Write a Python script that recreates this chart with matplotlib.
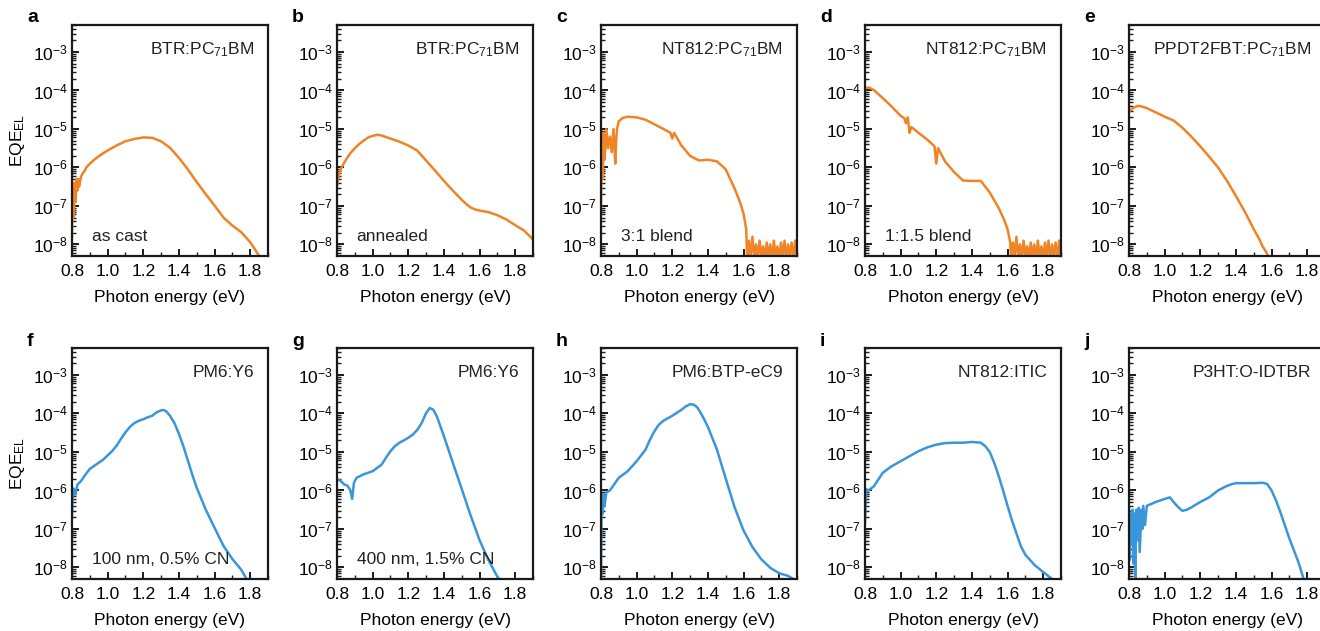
import matplotlib
matplotlib.use("Agg")
import matplotlib.pyplot as plt
import numpy as np
from matplotlib.ticker import FixedLocator, LogLocator, NullFormatter, MultipleLocator

plt.rcParams['font.family'] = ['Liberation Sans', 'DejaVu Sans']
plt.rcParams['mathtext.fontset'] = 'custom'
plt.rcParams['mathtext.rm'] = 'Liberation Sans'
plt.rcParams['mathtext.it'] = 'Liberation Sans:italic'
plt.rcParams['mathtext.bf'] = 'Liberation Sans:bold'

ORANGE = '#EF8427'
BLUE = '#3A96DA'

# photon energy (eV) and log10(EQE_EL)
a_E = [0.80, 0.805, 0.81, 0.815, 0.82, 0.825, 0.83, 0.835, 0.84, 0.85, 0.86, 0.87, 0.88, 0.9, 0.925, 0.95, 0.975,
       1.0, 1.05, 1.1, 1.15, 1.2, 1.25, 1.3, 1.35, 1.4, 1.45, 1.5, 1.55, 1.6, 1.65, 1.7, 1.75, 1.8, 1.83, 1.85]
a_L = [-7.8, -6.5, -7.3, -6.4, -6.9, -6.3, -6.6, -6.3, -6.5, -6.25, -6.15, -6.1, -6.0, -5.9, -5.8, -5.71, -5.63,
       -5.56, -5.43, -5.32, -5.26, -5.22, -5.23, -5.32, -5.49, -5.75, -6.05, -6.38, -6.69, -6.99, -7.3, -7.51, -7.68, -7.94, -8.15, -8.3]

b_E = [0.80, 0.81, 0.82, 0.85, 0.875, 0.9, 0.925, 0.95, 0.975, 1.0, 1.03, 1.05, 1.075, 1.1, 1.15, 1.2, 1.25, 1.3, 1.35, 1.4,
       1.45, 1.5, 1.525, 1.55, 1.575, 1.6, 1.65, 1.7, 1.75, 1.8, 1.85, 1.9]
b_L = [-6.5, -6.2, -6.05, -5.8, -5.63, -5.5, -5.39, -5.3, -5.22, -5.18, -5.15, -5.17, -5.21, -5.25, -5.33, -5.43, -5.56, -5.82, -6.08, -6.35,
       -6.6, -6.84, -6.95, -7.04, -7.09, -7.12, -7.16, -7.24, -7.35, -7.5, -7.64, -7.87]

c_E = [0.80, 0.805, 0.81, 0.815, 0.82, 0.83, 0.84, 0.85, 0.86, 0.87, 0.88, 0.885, 0.89, 0.9, 0.92,
       0.95, 1.0, 1.05, 1.1, 1.15, 1.19, 1.2, 1.21, 1.25, 1.3, 1.35, 1.4, 1.45, 1.5, 1.55, 1.58, 1.6, 1.615,
       1.62, 1.63, 1.64, 1.65, 1.66, 1.67, 1.68, 1.69, 1.70, 1.71, 1.72, 1.73, 1.74, 1.75, 1.76, 1.77,
       1.78, 1.79, 1.80, 1.81, 1.82, 1.83, 1.84, 1.85, 1.86, 1.87, 1.88, 1.89, 1.9]
c_L = [-7.0, -5.2, -6.3, -5.1, -5.8, -5.0, -5.5, -5.2, -5.6, -5.0, -5.9, -5.3, -5.0, -4.8, -4.72,
       -4.68, -4.7, -4.76, -4.88, -5.0, -5.1, -5.25, -5.1, -5.42, -5.7, -5.82, -5.8, -5.84, -6.05, -6.55, -6.9, -7.2, -7.6,
       -8.4, -7.9, -8.3, -7.8, -8.35, -8.0, -8.4, -7.9, -8.3, -8.05, -8.4, -7.95, -8.3, -8.0, -8.4, -7.9,
       -8.3, -8.05, -8.4, -7.95, -8.3, -7.9, -8.4, -8.0, -8.3, -7.95, -8.4, -7.9, -8.3]

d_E = [0.80, 0.82, 0.85, 0.9, 0.95, 1.0, 1.02, 1.03, 1.04, 1.05, 1.06, 1.1, 1.15, 1.19, 1.2, 1.21,
       1.25, 1.3, 1.35, 1.4, 1.45, 1.5, 1.55, 1.58, 1.6, 1.615,
       1.62, 1.63, 1.64, 1.65, 1.66, 1.67, 1.68, 1.69, 1.70, 1.71, 1.72, 1.73, 1.74, 1.75, 1.76, 1.77,
       1.78, 1.79, 1.80, 1.81, 1.82, 1.83, 1.84, 1.85, 1.86, 1.87, 1.88, 1.89, 1.9]
d_L = [-3.95, -3.92, -3.99, -4.2, -4.42, -4.66, -4.72, -4.85, -4.7, -5.1, -4.95, -5.1, -5.28, -5.45, -5.9, -5.5,
       -5.85, -6.12, -6.34, -6.35, -6.35, -6.65, -7.05, -7.35, -7.6, -7.95,
       -8.4, -7.95, -8.3, -7.8, -8.35, -8.0, -8.4, -7.9, -8.3, -8.05, -8.4, -7.95, -8.3, -8.0, -8.4, -7.9,
       -8.3, -8.05, -8.4, -7.95, -8.3, -7.9, -8.4, -8.0, -8.3, -7.95, -8.4, -7.9, -8.3]

e_E = [0.80, 0.825, 0.85, 0.875, 0.9, 0.95, 1.0, 1.05, 1.1, 1.15, 1.2, 1.25, 1.3, 1.35, 1.4, 1.45, 1.5, 1.53, 1.55, 1.57, 1.58]
e_L = [-4.55, -4.45, -4.4, -4.42, -4.46, -4.57, -4.68, -4.78, -4.97, -5.2, -5.45, -5.72, -6.0, -6.35, -6.74, -7.15, -7.6, -7.85, -8.05, -8.2, -8.3]

f_E = [0.80, 0.805, 0.81, 0.82, 0.83, 0.85, 0.875, 0.9, 0.925, 0.95, 0.975, 1.0, 1.025, 1.05, 1.075, 1.1, 1.125,
       1.15, 1.175, 1.2, 1.225, 1.25, 1.275, 1.3, 1.315, 1.33, 1.35, 1.375, 1.4, 1.425, 1.45, 1.475,
       1.5, 1.55, 1.6, 1.65, 1.7, 1.75, 1.78]
f_L = [-6.66, -6.1, -5.95, -6.1, -5.85, -5.76, -5.59, -5.44, -5.36, -5.28, -5.2, -5.09, -4.98, -4.84, -4.66, -4.49, -4.35,
       -4.25, -4.19, -4.15, -4.1, -4.06, -3.97, -3.92, -3.91, -3.95, -4.06, -4.25, -4.53, -4.85, -5.22, -5.59,
       -5.93, -6.49, -6.97, -7.44, -7.78, -8.06, -8.3]

g_E = [0.80, 0.82, 0.84, 0.86, 0.875, 0.885, 0.895, 0.91, 0.95, 1.0, 1.05, 1.075, 1.1, 1.125, 1.15, 1.175,
       1.2, 1.225, 1.25, 1.275, 1.3, 1.32, 1.34, 1.36, 1.38, 1.4, 1.45, 1.5, 1.55, 1.6, 1.65, 1.7, 1.71]
g_L = [-5.71, -5.75, -5.84, -5.88, -6.0, -6.22, -5.8, -5.67, -5.58, -5.5, -5.33, -5.15, -4.98, -4.85, -4.76, -4.7,
       -4.63, -4.55, -4.43, -4.25, -3.99, -3.86, -3.9, -4.07, -4.33, -4.59, -5.28, -5.96, -6.65, -7.29, -7.81, -8.24, -8.3]

h_E = [0.80, 0.802, 0.805, 0.81, 0.815, 0.82, 0.83, 0.85, 0.9, 0.95, 1.0, 1.05, 1.075, 1.1, 1.125, 1.15, 1.2,
       1.25, 1.275, 1.3, 1.32, 1.34, 1.36, 1.38, 1.4, 1.45, 1.5, 1.55, 1.6, 1.65, 1.7, 1.75, 1.8, 1.85, 1.88]
h_L = [-8.3, -6.9, -6.15, -6.6, -6.1, -6.4, -6.05, -6.0, -5.67, -5.5, -5.24, -4.94, -4.68, -4.46, -4.29, -4.19, -4.06,
       -3.91, -3.82, -3.76, -3.77, -3.84, -3.99, -4.16, -4.35, -4.93, -5.69, -6.44, -7.04, -7.47, -7.79, -8.01, -8.15, -8.22, -8.3]

i_E = [0.80, 0.805, 0.81, 0.82, 0.85, 0.9, 0.95, 1.0, 1.05, 1.1, 1.15, 1.2, 1.25, 1.3, 1.35, 1.4, 1.45, 1.475,
       1.5, 1.525, 1.55, 1.575, 1.6, 1.625, 1.65, 1.675, 1.7, 1.75, 1.8, 1.85]
i_L = [-6.84, -6.2, -5.97, -6.0, -5.89, -5.54, -5.37, -5.24, -5.11, -4.98, -4.88, -4.81, -4.77, -4.76, -4.76, -4.74, -4.76, -4.85,
       -5.0, -5.28, -5.62, -6.0, -6.4, -6.78, -7.12, -7.45, -7.67, -7.93, -8.12, -8.3]

j_E = [0.80, 0.805, 0.81, 0.815, 0.82, 0.825, 0.83, 0.835, 0.84, 0.85, 0.855, 0.86, 0.87, 0.875, 0.88, 0.89,
       0.9, 0.95, 1.0, 1.03, 1.05, 1.075, 1.1, 1.125, 1.15, 1.2, 1.25, 1.3, 1.325, 1.35, 1.375, 1.4, 1.45, 1.5, 1.55,
       1.575, 1.6, 1.625, 1.65, 1.675, 1.7, 1.725, 1.75, 1.78]
j_L = [-6.5, -7.8, -6.6, -7.4, -6.5, -7.9, -6.6, -8.3, -6.5, -7.3, -6.45, -7.6, -6.5, -7.0, -6.4, -6.9,
       -6.4, -6.3, -6.22, -6.18, -6.3, -6.43, -6.53, -6.5, -6.44, -6.3, -6.18, -6.0, -5.94, -5.88, -5.84, -5.81, -5.81, -5.81, -5.8,
       -5.83, -6.0, -6.26, -6.57, -6.91, -7.25, -7.55, -7.85, -8.3]

panels = [
    ('a', a_E, a_L, ORANGE, 'BTR:PC$_{71}$BM', 'as cast'),
    ('b', b_E, b_L, ORANGE, 'BTR:PC$_{71}$BM', 'annealed'),
    ('c', c_E, c_L, ORANGE, 'NT812:PC$_{71}$BM', '3:1 blend'),
    ('d', d_E, d_L, ORANGE, 'NT812:PC$_{71}$BM', '1:1.5 blend'),
    ('e', e_E, e_L, ORANGE, 'PPDT2FBT:PC$_{71}$BM', ''),
    ('f', f_E, f_L, BLUE, 'PM6:Y6', '100 nm, 0.5% CN'),
    ('g', g_E, g_L, BLUE, 'PM6:Y6', '400 nm, 1.5% CN'),
    ('h', h_E, h_L, BLUE, 'PM6:BTP-eC9', ''),
    ('i', i_E, i_L, BLUE, 'NT812:ITIC', ''),
    ('j', j_E, j_L, BLUE, 'P3HT:O-IDTBR', ''),
]

W, H = 1320, 631
fig = plt.figure(figsize=(W / 100, H / 100), dpi=100)
lefts = [72, 337, 601, 865, 1129]
tops = [25, 348]
aw, ah = 196, 231

for k, (lab, E, L, col, name, note) in enumerate(panels):
    row, c = divmod(k, 5)
    x0 = lefts[c]
    y0 = tops[row]
    ax = fig.add_axes([x0 / W, 1 - (y0 + ah) / H, aw / W, ah / H])
    ax.plot(E, 10.0 ** np.array(L), color=col, lw=1.8, solid_joinstyle='round')
    ax.set_yscale('log')
    ax.set_xlim(0.8, 1.9)
    ax.set_ylim(10 ** -8.3, 10 ** -2.3)
    ax.yaxis.set_major_locator(FixedLocator([1e-8, 1e-7, 1e-6, 1e-5, 1e-4, 1e-3]))
    ax.set_yticklabels(['10$^{-8}$', '10$^{-7}$', '10$^{-6}$', '10$^{-5}$', '10$^{-4}$', '10$^{-3}$'])
    ax.yaxis.set_minor_locator(LogLocator(base=10, subs=np.arange(2, 10), numticks=20))
    ax.yaxis.set_minor_formatter(NullFormatter())
    ax.xaxis.set_minor_locator(MultipleLocator(0.1))
    ax.set_xticks([0.8, 1.0, 1.2, 1.4, 1.6, 1.8])
    ax.set_xticklabels(['0.8', '1.0', '1.2', '1.4', '1.6', '1.8'])
    ax.tick_params(which='both', direction='in', top=False, right=False, labelsize=12.5, color='#1a1a1a')
    ax.tick_params(which='major', length=5, width=1.4)
    ax.tick_params(which='minor', length=3, width=1.0)
    ax.tick_params(axis='x', pad=6)
    ax.tick_params(axis='y', pad=3)
    for s in ax.spines.values():
        s.set_linewidth(1.6)
        s.set_color('#1a1a1a')
    ax.set_xlabel('Photon energy (eV)', fontsize=12.5, labelpad=8)
    if c == 0:
        ax.set_ylabel('EQE$_{\\rm EL}$', fontsize=12.5, labelpad=4)
    ax.text(0.93, 0.895, name, transform=ax.transAxes, ha='right', va='center', fontsize=12.5, color='#222222')
    if note:
        ax.text(0.1, 0.083, note, transform=ax.transAxes, ha='left', va='center', fontsize=12.5, color='#222222')
    fig.text((x0 - 45) / W, 1 - (y0 - 7) / H, lab, fontsize=14, fontweight='bold', ha='left', va='center')

fig.savefig('out.png', dpi=100)
